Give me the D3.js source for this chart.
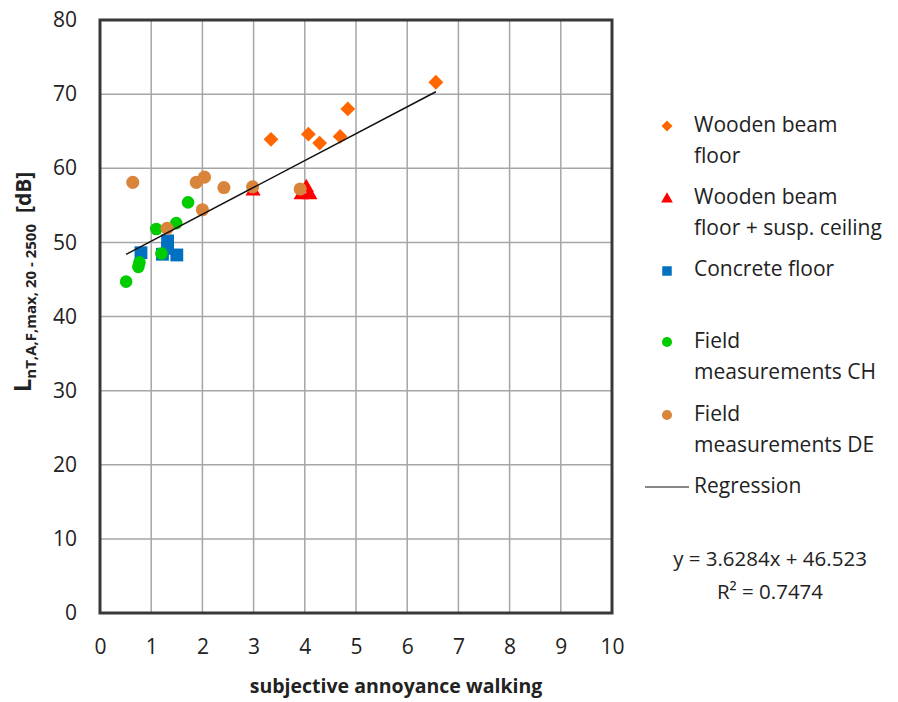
<!DOCTYPE html>
<html>
<head>
<meta charset="utf-8">
<script src="https://cdn.jsdelivr.net/npm/d3@7"></script>
<style>
  html, body { margin: 0; padding: 0; background: #fff; }
  svg { display: block; font-family: "Open Sans", "Liberation Sans", sans-serif; }
</style>
</head>
<body>
<svg id="chart" width="898" height="702"></svg>
<script>
// ---- data ----
const woodX = [3.34, 4.07, 4.29, 4.69, 4.84, 6.56];
const woodY = [63.9, 64.6, 63.4, 64.3, 68.0, 71.6];

const ceilX = [2.99, 3.93, 4.03, 4.10];
const ceilY = [56.9, 56.4, 57.4, 56.4];

const concX = [0.80, 1.22, 1.32, 1.32, 1.50];
const concY = [48.6, 48.4, 50.2, 49.2, 48.3];

const chX = [0.51, 0.75, 0.77, 1.10, 1.20, 1.49, 1.72];
const chY = [44.7, 46.7, 47.3, 51.8, 48.5, 52.6, 55.4];

const deX = [0.64, 1.31, 1.88, 2.00, 2.04, 2.42, 2.98, 3.91];
const deY = [58.1, 51.9, 58.1, 54.4, 58.8, 57.4, 57.5, 57.2];

const regSlope = 3.6284;
const regIntercept = 46.523;
const regRange = [0.51, 6.56];

const xTicks = [0, 1, 2, 3, 4, 5, 6, 7, 8, 9, 10];
const yTicks = [0, 10, 20, 30, 40, 50, 60, 70, 80];

const legendLabels = [
  ["Wooden beam", "floor"],
  ["Wooden beam", "floor + susp. ceiling"],
  ["Concrete floor"],
  ["Field", "measurements CH"],
  ["Field", "measurements DE"]
];
const equationText = "y = 3.6284x + 46.523";
const r2Text = "R² = 0.7474";

// ---- chart ----
const svg = d3.select("#chart");
const x = d3.scaleLinear().domain([0, 10]).range([100, 612]);
const y = d3.scaleLinear().domain([0, 80]).range([613, 20]);

// gridlines
svg.append("g").selectAll("line.vg").data(xTicks.slice(1, -1)).join("line")
  .attr("x1", d => x(d)).attr("x2", d => x(d))
  .attr("y1", y(80)).attr("y2", y(0))
  .attr("stroke", "#a6a6a6").attr("stroke-width", 1.5);
svg.append("g").selectAll("line.hg").data(yTicks.slice(1, -1)).join("line")
  .attr("x1", x(0)).attr("x2", x(10))
  .attr("y1", d => y(d)).attr("y2", d => y(d))
  .attr("stroke", "#a6a6a6").attr("stroke-width", 1.5);

// plot border
svg.append("rect")
  .attr("x", x(0)).attr("y", y(80))
  .attr("width", x(10) - x(0)).attr("height", y(0) - y(80))
  .attr("fill", "none").attr("stroke", "#383838").attr("stroke-width", 3);

// axes (labels only)
const xAxis = svg.append("g").attr("transform", `translate(0,${y(0)})`)
  .call(d3.axisBottom(x).tickValues(xTicks).tickSize(0).tickPadding(26).tickFormat(d3.format("d")));
const yAxis = svg.append("g").attr("transform", `translate(${x(0)},0)`)
  .call(d3.axisLeft(y).tickValues(yTicks).tickSize(0).tickPadding(23).tickFormat(d3.format("d")));
[xAxis, yAxis].forEach(a => {
  a.select(".domain").remove();
  a.selectAll("text").attr("font-size", 21).attr("fill", "#222")
    .attr("font-family", "'Open Sans', sans-serif");
});

// markers
const sym = (type, size) => d3.symbol().type(type).size(size)();
const marks = svg.append("g");

function drawSeries(xs, ys, type, size, color, rotate) {
  marks.append("g").selectAll("path").data(xs.map((v, i) => [v, ys[i]])).join("path")
    .attr("d", sym(type, size))
    .attr("transform", d => `translate(${x(d[0])},${y(d[1])})` + (rotate ? " rotate(45)" : ""))
    .attr("fill", color);
}
drawSeries(woodX, woodY, d3.symbolSquare, 110, "#ff6600", true);
drawSeries(ceilX, ceilY, d3.symbolTriangle, 100, "#ff0000", false);
drawSeries(concX, concY, d3.symbolSquare, 165, "#0070c0", false);
drawSeries(chX, chY, d3.symbolCircle, 125, "#00cc00", false);
drawSeries(deX, deY, d3.symbolCircle, 135, "#d9843b", false);

// regression
const line = d3.line().x(d => x(d)).y(d => y(regSlope * d + regIntercept));
svg.append("path").datum(regRange).attr("d", line)
  .attr("fill", "none").attr("stroke", "#111").attr("stroke-width", 1.5);

// axis titles
svg.append("text")
  .attr("x", 396).attr("y", 693)
  .attr("text-anchor", "middle")
  .attr("font-weight", "bold").attr("font-size", 19.5).attr("fill", "#222")
  .text("subjective annoyance walking");

const yl = svg.append("text")
  .attr("transform", "translate(31,282) rotate(-90)")
  .attr("text-anchor", "middle")
  .attr("font-weight", "bold").attr("fill", "#222");
yl.append("tspan").attr("font-size", 24).text("L");
yl.append("tspan").attr("font-size", 15).attr("dy", 5).text("nT,A,F,max, 20 - 2500");
yl.append("tspan").attr("font-size", 21).attr("dy", -5).text("\u00a0 [dB]");

// legend
const legendY = [[132, 163], [204, 235], [276], [348, 379], [421, 452]];
const markerY = [126, 199, 271, 342, 415];
const legendSym = [
  [d3.symbolSquare, 60, "#ff6600", true],
  [d3.symbolTriangle, 60, "#ff0000", false],
  [d3.symbolSquare, 90, "#0070c0", false],
  [d3.symbolCircle, 80, "#00cc00", false],
  [d3.symbolCircle, 80, "#d9843b", false]
];
legendLabels.forEach((lines, i) => {
  const s = legendSym[i];
  svg.append("path").attr("d", sym(s[0], s[1]))
    .attr("transform", `translate(667,${markerY[i]})` + (s[3] ? " rotate(45)" : ""))
    .attr("fill", s[2]);
  lines.forEach((t, j) => {
    svg.append("text").attr("x", 694).attr("y", legendY[i][j])
      .attr("font-size", 21).attr("fill", "#222").text(t);
  });
});
svg.append("line").attr("x1", 645).attr("x2", 689).attr("y1", 487).attr("y2", 487)
  .attr("stroke", "#111").attr("stroke-width", 1.2);
svg.append("text").attr("x", 694).attr("y", 493)
  .attr("font-size", 21).attr("fill", "#222").text("Regression");

svg.append("text").attr("x", 770).attr("y", 566).attr("text-anchor", "middle")
  .attr("font-size", 20.5).attr("fill", "#222").text(equationText);
svg.append("text").attr("x", 770).attr("y", 599).attr("text-anchor", "middle")
  .attr("font-size", 20.5).attr("fill", "#222").text(r2Text);
</script>
</body>
</html>
